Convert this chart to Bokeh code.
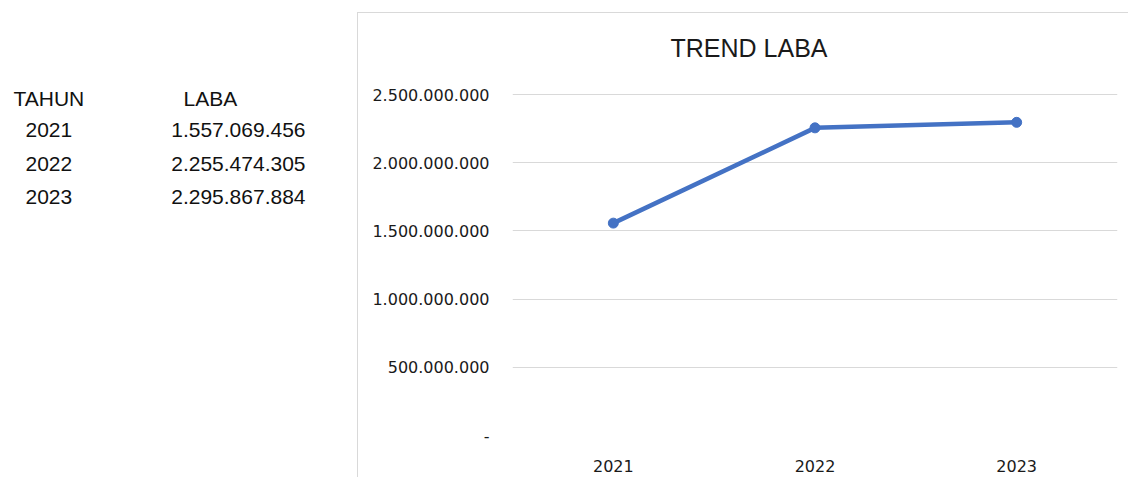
from bokeh.plotting import figure
from bokeh.models import FactorRange, Range1d, FixedTicker
from bokeh.layouts import row
from bokeh.core.properties import value
from bokeh.embed import file_html
from bokeh.resources import INLINE

# ---- data ----
years = ["2021", "2022", "2023"]
laba = [1557069456, 2255474305, 2295867884]
laba_text = ["1.557.069.456", "2.255.474.305", "2.295.867.884"]
header = ["TAHUN", "LABA"]
title_text = "TREND LABA"
y_ticks = [0, 500000000, 1000000000, 1500000000, 2000000000, 2500000000]
y_tick_labels = ["-", "500.000.000", "1.000.000.000", "1.500.000.000",
                 "2.000.000.000", "2.500.000.000"]

TABLE_FONT = value("Liberation Sans")

# layout geometry (page pixels)
CANVAS_TOP = 13
BORDER_TOP = 60
FRAME_TOP = CANVAS_TOP + BORDER_TOP   # 73
GRID_TOP = 94                          # where the highest tick sits
FRAME_BOTTOM = 435
y_end = y_ticks[-1] * (FRAME_BOTTOM - FRAME_TOP) / (FRAME_BOTTOM - GRID_TOP)

# ---- left table (its frame is aligned with the chart frame by the row) ----
t = figure(width=357, height=478, x_range=Range1d(0, 357),
           y_range=Range1d(FRAME_BOTTOM, FRAME_TOP),
           output_backend="svg", toolbar_location=None,
           x_axis_location=None, y_axis_location=None, min_border=0)
t.grid.visible = False
t.outline_line_color = None

hy = 110
row_y = [140.5 + 32 * i for i in range(len(years))]
t.text(x=[13, 183], y=[hy, hy], text=header, text_baseline="middle",
       text_font=TABLE_FONT, text_font_size="21px", text_color="#111111")
t.text(x=[25] * len(years), y=row_y, text=years, text_baseline="middle",
       text_font=TABLE_FONT, text_font_size="21px", text_color="#111111")
t.text(x=[305] * len(years), y=row_y, text=laba_text, text_baseline="middle",
       text_align="right", text_font=TABLE_FONT, text_font_size="21px",
       text_color="#111111")

# ---- chart ----
p = figure(width=771, height=465, x_range=FactorRange(*years),
           y_range=Range1d(0, y_end),
           output_backend="svg", toolbar_location=None,
           min_border_left=154, min_border_right=12,
           min_border_top=BORDER_TOP, min_border_bottom=43)
p.x_range.range_padding = 0
p.outline_line_color = None
p.styles = {"border-left": "1px solid #d9d9d9", "border-top": "1px solid #d9d9d9"}
p.margin = (12, 0, 0, 0)

p.line(x=years, y=laba, line_width=4.5, color="#4472C4")
p.scatter(x=years, y=laba, size=10, color="#4472C4")

p.yaxis.ticker = FixedTicker(ticks=y_ticks)
p.yaxis.major_label_overrides = dict(zip(y_ticks, y_tick_labels))
for ax in (p.xaxis[0], p.yaxis[0]):
    ax.axis_line_color = None
    ax.major_tick_line_color = None
    ax.minor_tick_line_color = None
    ax.major_label_text_font = "DejaVu Sans"
    ax.major_label_text_font_size = "16px"
    ax.major_label_text_color = "#1a1a1a"
p.yaxis.major_label_standoff = 17
p.xaxis.major_label_standoff = 18

p.xgrid.grid_line_color = None
p.ygrid.grid_line_color = "#d9d9d9"
p.ygrid.grid_line_width = 1

p.title.text = title_text
p.title.align = "left"
p.title.offset = 158
p.title.standoff = 23
p.title.text_font = "Liberation Sans"
p.title.text_font_size = "25px"
p.title.text_font_style = "normal"
p.title.text_color = "#1a1a1a"

layout = row(t, p)
open("out.html", "w").write(file_html(layout, INLINE))
